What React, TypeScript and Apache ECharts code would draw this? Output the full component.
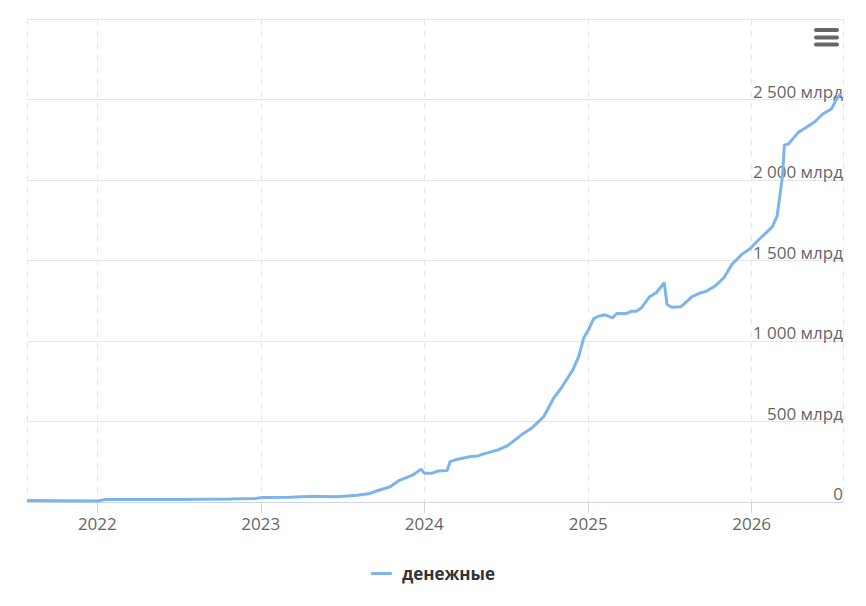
import React, { useEffect, useRef } from "react";
import * as echarts from "echarts";

const seriesName = "денежные";

const dates: string[] = [
  "2021-07-28", "2021-10-10", "2022-01-01", "2022-01-19", "2022-03-15", "2022-07-05",
  "2022-10-24", "2022-12-20", "2023-01-04", "2023-03-06", "2023-04-27", "2023-06-20",
  "2023-08-04", "2023-09-02", "2023-09-18", "2023-10-17", "2023-11-04", "2023-12-07",
  "2023-12-25", "2024-01-01", "2024-01-19", "2024-02-01", "2024-02-21", "2024-02-28",
  "2024-03-15", "2024-04-14", "2024-04-30", "2024-05-13", "2024-06-14", "2024-07-06",
  "2024-08-05", "2024-08-28", "2024-09-24", "2024-10-16", "2024-11-02", "2024-11-28",
  "2024-12-11", "2024-12-22", "2025-01-02", "2025-01-13", "2025-01-24", "2025-02-08",
  "2025-02-24", "2025-03-06", "2025-03-28", "2025-04-08", "2025-04-19", "2025-04-30",
  "2025-05-18", "2025-06-02", "2025-06-20", "2025-06-26", "2025-07-07", "2025-07-27",
  "2025-08-21", "2025-09-10", "2025-09-23", "2025-10-13", "2025-10-31", "2025-11-18",
  "2025-12-10", "2025-12-29", "2026-01-14", "2026-02-16", "2026-02-27", "2026-03-06",
  "2026-03-11", "2026-03-15", "2026-03-24", "2026-04-15", "2026-04-30", "2026-05-22",
  "2026-06-09", "2026-06-28", "2026-07-12", "2026-07-19",
];

const values: number[] = [
  10, 8, 6, 16, 16, 15,
  19, 22, 28, 29, 35, 33,
  42, 53, 70, 95, 131, 168,
  204, 179, 179, 193, 195, 251,
  266, 282, 286, 299, 324, 352,
  417, 459, 531, 646, 708, 822,
  905, 1019, 1071, 1138, 1154, 1163,
  1144, 1171, 1171, 1185, 1185, 1206,
  1275, 1300, 1362, 1227, 1210, 1212,
  1275, 1300, 1310, 1345, 1393, 1476,
  1538, 1574, 1621, 1709, 1777, 1922,
  2026, 2217, 2223, 2296, 2321, 2362,
  2410, 2441, 2514, 2534,
];

const yTicks: number[] = [0, 500, 1000, 1500, 2000, 2500, 3000];
const xMin = "2021-07-28";
const xMax = "2026-07-24";

function fmt(v: number): string {
  if (v === 0) return "0";
  const s = String(Math.round(v));
  const parts: string[] = [];
  for (let i = s.length; i > 0; i -= 3) parts.unshift(s.slice(Math.max(0, i - 3), i));
  return parts.join(" ") + " млрд";
}

export default function App() {
  const ref = useRef<HTMLDivElement>(null);
  useEffect(() => {
    if (!ref.current) return;
    const chart = echarts.init(ref.current, null, { renderer: "svg" });
    const font = "'Open Sans', 'Noto Sans', sans-serif";
    chart.setOption({
      animation: false,
      backgroundColor: "#ffffff",
      textStyle: { fontFamily: font },
      grid: { left: 27, right: 23, top: 19, bottom: 104, containLabel: false },
      xAxis: {
        type: "time",
        min: xMin,
        max: xMax,
        minInterval: 365 * 24 * 3600 * 1000,
        axisLine: { show: true, lineStyle: { color: "#ccd6eb", width: 1 } },
        axisTick: { show: true, length: 11, lineStyle: { color: "#ccd6eb" } },
        axisLabel: {
          show: true,
          formatter: "{yyyy}",
          color: "#666666",
          fontSize: 17,
          fontFamily: font,
          margin: 13,
          showMinLabel: false,
          showMaxLabel: false,
        },
        splitLine: { show: true, lineStyle: { color: "#e6e6e6", type: [6, 6], width: 1 } },
      },
      yAxis: {
        type: "value",
        position: "right",
        min: yTicks[0],
        max: yTicks[yTicks.length - 1],
        interval: 500,
        axisLine: { show: false },
        axisTick: { show: false },
        axisLabel: {
          inside: true,
          margin: 0,
          verticalAlign: "bottom",
          padding: [0, 0, 0, 0],
          color: "#666666",
          fontSize: 17,
          fontFamily: font,
          showMaxLabel: false,
          formatter: (v: number) => fmt(v),
        },
        splitLine: { show: true, lineStyle: { color: "#e6e6e6", width: 1 } },
      },
      legend: {
        show: true,
        top: 560,
        left: "center",
        icon: "roundRect",
        itemWidth: 21,
        itemHeight: 3,
        textStyle: { color: "#333333", fontSize: 17, fontWeight: "bold", fontFamily: font, padding: [0, 0, 0, 5] },
        data: [seriesName],
      },
      graphic: [
        { type: "rect", shape: { x: 814, y: 28, width: 25, height: 4, r: 2 }, style: { fill: "#666666" } },
        { type: "rect", shape: { x: 814, y: 35.5, width: 25, height: 4, r: 2 }, style: { fill: "#666666" } },
        { type: "rect", shape: { x: 814, y: 42.5, width: 25, height: 4, r: 2 }, style: { fill: "#666666" } },
      ],
      series: [
        {
          name: seriesName,
          type: "line",
          data: dates.map((d, i) => [d, values[i]]),
          symbol: "none",
          showSymbol: false,
          lineStyle: { color: "#7cb5ec", width: 3 },
          itemStyle: { color: "#7cb5ec" },
        },
      ],
    });
    return () => chart.dispose();
  }, []);
  return <div ref={ref} style={{ position: "fixed", left: 0, top: 0, width: 866, height: 606 }} />;
}
